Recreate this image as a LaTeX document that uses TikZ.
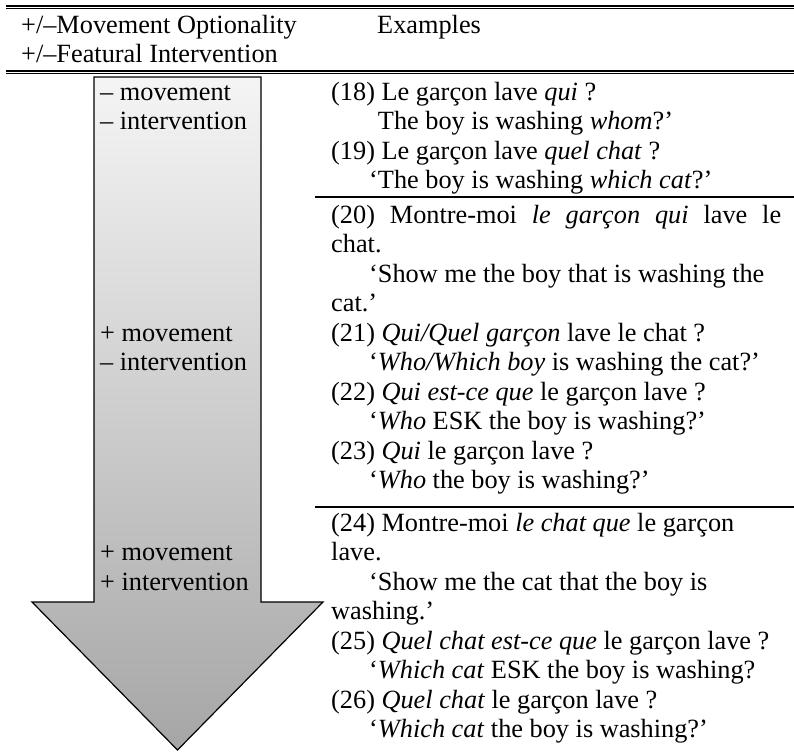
\documentclass[tikz,border=0pt]{standalone}
\usepackage{fontspec}
\setmainfont{Liberation Serif}
\begin{document}
\begin{tikzpicture}[x=1pt,y=-1pt,
  txt/.style={anchor=base west,inner sep=0pt,align=left,font=\fontsize{26.3}{29.5}\selectfont},
  bigarrow/.style={draw=black,line width=1.2pt,top color=black!4,bottom color=black!35},
  thickrule/.style={line width=2pt},
  thinrule/.style={line width=1pt}]
\pgfmathsetmacro{\kgl}{38}
\pgfmathsetmacro{\kcol}{331}
\useasboundingbox (0,0) rectangle (794,753);
\draw[thickrule](6,5.5)--(794,5.5);
\draw[thinrule](6,8.5)--(794,8.5);
\draw[thickrule](6,70.5)--(794,70.5);
\draw[thinrule](6,73.5)--(794,73.5);
\draw[bigarrow](94,77)--(261,77)--(261,602)--(323,602)--(177.5,750)--(32,602)--(94,602)--cycle;
\draw[line width=1.5pt](315,197)--(794,197);
\draw[line width=1.5pt](315,507)--(794,507);
\node[txt](head) at (21,62.5){+/–Movement Optionality\\+/–Featural Intervention};
\node[txt](exhead) at (377,33){Examples};
\node[txt](lab1) at (100,129.5){– movement\\– intervention};
\node[txt](lab2) at (100,370.5){+ movement\\– intervention};
\node[txt](lab3) at (100,590){+ movement\\+ intervention};
\node[txt](ex18) at (\kcol,129.5){(18) Le garçon lave \textit{qui} ?\\
  \hspace*{\kgl pt}\phantom{‘}The boy is washing \textit{whom}?’};
\node[txt](ex19) at (\kcol,188.5){(19) Le garçon lave \textit{quel chat} ?\\
  \hspace*{\kgl pt}‘The boy is washing \textit{which cat}?’};
\node[txt](ex20) at (\kcol,311.5){\makebox[450pt][s]{(20) Montre-moi \textit{le garçon qui} lave le}\\
  chat.\\
  \hspace*{\kgl pt}‘Show me the boy that is washing the\\
  cat.’};
\node[txt](ex21) at (\kcol,370.5){(21) \textit{Qui/Quel garçon} lave le chat ?\\
  \hspace*{\kgl pt}‘\textit{Who/Which boy} is washing the cat?’};
\node[txt](ex22) at (\kcol,429.5){(22) \textit{Qui est-ce que} le garçon lave ?\\
  \hspace*{\kgl pt}‘\textit{Who} ESK the boy is washing?’};
\node[txt](ex23) at (\kcol,488.5){(23) \textit{Qui} le garçon lave ?\\
  \hspace*{\kgl pt}‘\textit{Who} the boy is washing?’};
\node[txt](ex24) at (\kcol,619.5){(24) Montre-moi \textit{le chat que} le garçon\\
  lave.\\
  \hspace*{\kgl pt}‘Show me the cat that the boy is\\
  washing.’};
\node[txt](ex25) at (\kcol,678.5){(25) \textit{Quel chat est-ce que} le garçon lave ?\\
  \hspace*{\kgl pt}‘\textit{Which cat} ESK the boy is washing?};
\node[txt](ex26) at (\kcol,737.5){(26) \textit{Quel chat} le garçon lave ?\\
  \hspace*{\kgl pt}‘\textit{Which cat} the boy is washing?’};
\end{tikzpicture}
\end{document}
